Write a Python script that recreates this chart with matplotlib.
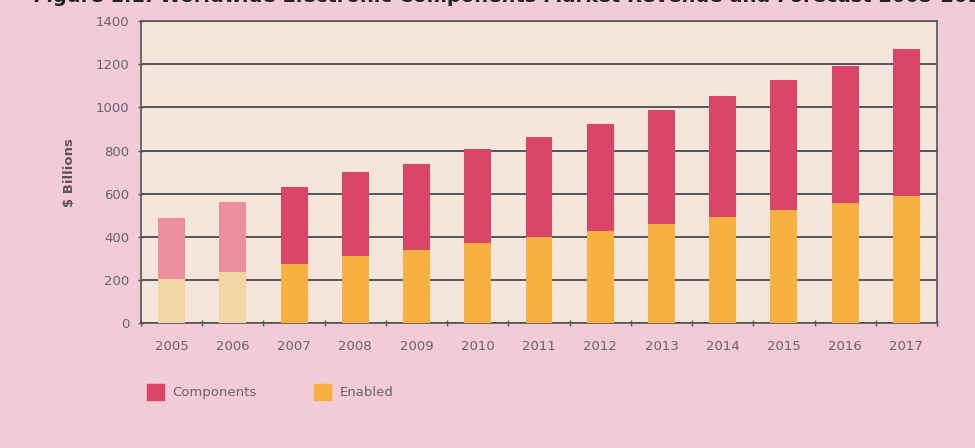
import matplotlib.pyplot as plt
import numpy as np
from matplotlib.patches import Rectangle

years = ['2005', '2006', '2007', '2008', '2009', '2010', '2011',
         '2012', '2013', '2014', '2015', '2016', '2017']
enabled = [205, 236, 274, 311, 339, 370, 401, 429, 460, 491, 525, 558, 591]
total = [490, 562, 631, 700, 739, 807, 864, 923, 988, 1054, 1126, 1194, 1271]
components = [t - e for t, e in zip(total, enabled)]

red = '#d9466a'
orange = '#f7b140'
red_light = '#eb8f9e'
orange_light = '#f3d5a8'
page_bg = '#f1cbd5'
plot_bg = '#f4e6dc'
text_col = '#6e5f72'

fig = plt.figure(figsize=(9.75, 4.48), dpi=100, facecolor=page_bg)
ax = fig.add_axes([0.1446, 0.2783, 0.8164, 0.6747])
ax.set_facecolor(plot_bg)

x = np.arange(len(years))
# first two years are shown in a lighter shade
en_cols = [orange_light] * 2 + [orange] * (len(years) - 2)
co_cols = [red_light] * 2 + [red] * (len(years) - 2)
ax.bar(x, enabled, width=0.44, color=en_cols, zorder=3)
ax.bar(x, components, bottom=enabled, width=0.44, color=co_cols, zorder=3)

ax.set_xlim(-0.5, len(years) - 0.5)
ax.set_ylim(0, 1400)
ax.set_yticks(range(0, 1401, 200))
ax.yaxis.grid(True, color='#4a4a4a', linewidth=1.3, zorder=1)
ax.set_axisbelow(True)

ax.set_xticks(x)
ax.set_xticklabels(years)
ax.set_xticks(np.arange(-0.5, len(years), 1), minor=True)
ax.tick_params(axis='x', which='major', length=0, pad=12, labelsize=9.5, labelcolor=text_col)
ax.tick_params(axis='x', which='minor', length=5, width=1, color='#555555', direction='inout')
ax.tick_params(axis='y', length=5, width=1, color='#555555', direction='inout',
               labelsize=9.5, labelcolor=text_col, pad=6)

for s in ax.spines.values():
    s.set_color('#555555')
    s.set_linewidth(1.2)

ax.set_ylabel('$ Billions', fontsize=9.5, fontweight='bold', color='#5e4f62', labelpad=14)

# legend drawn as swatches in figure coordinates
for xs, col, lab in [(0.151, red, 'Components'), (0.322, orange, 'Enabled')]:
    fig.patches.append(Rectangle((xs, 0.108), 0.017, 0.034, transform=fig.transFigure,
                                 color=col, figure=fig))
    fig.text(xs + 0.026, 0.125, lab, fontsize=9.5, color=text_col, va='center')

# heading runs off the top of the page
fig.text(1.02, 1 - 1.5 / 448,
         'Figure 1.1: Worldwide Electronic Components Market Revenue and Forecast 2005-2017',
         ha='right', va='baseline', fontsize=14, fontweight='bold', color='#222222')

fig.savefig('out.png', dpi=100, facecolor=page_bg)
